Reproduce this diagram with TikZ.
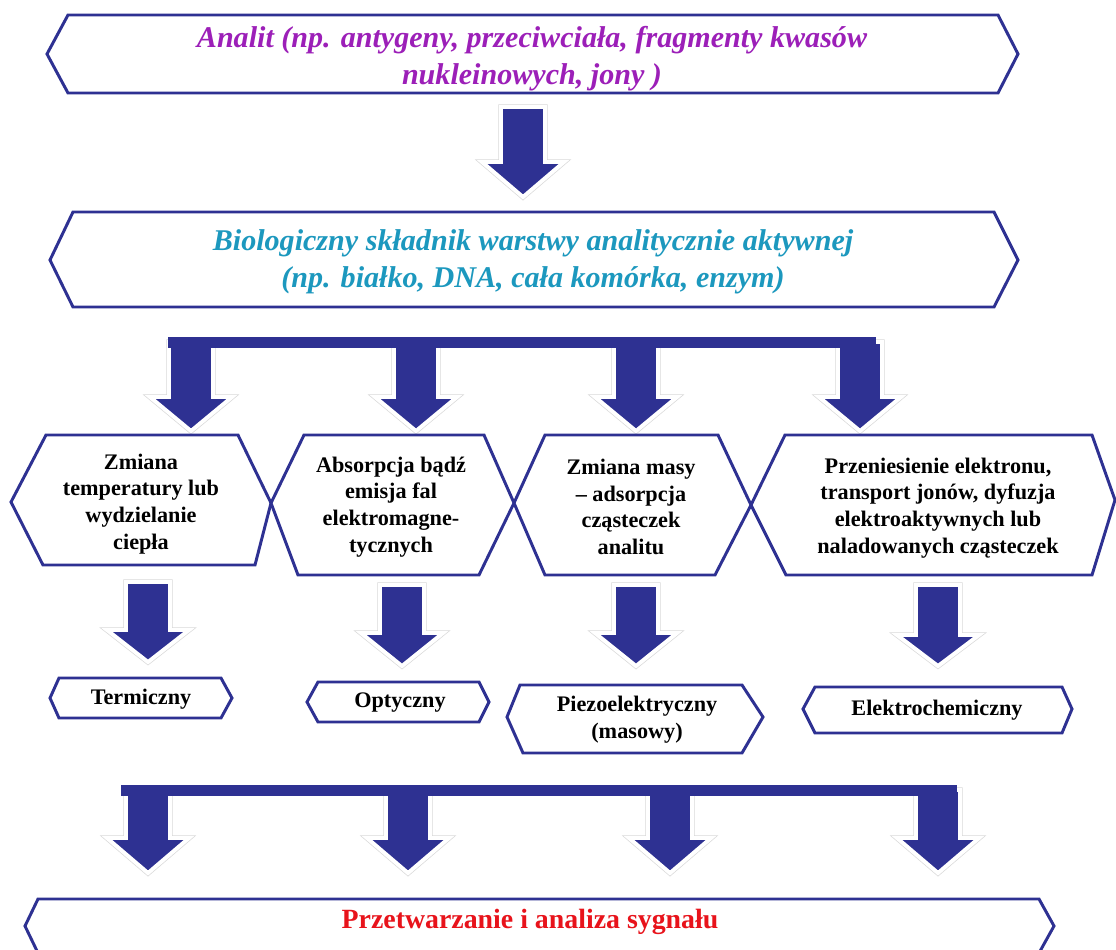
\documentclass[tikz,border=0pt]{standalone}
\usepackage{fontspec}
\setmainfont{Liberation Serif}
\usepackage{tikz}
\usepackage{xcolor}
\usetikzlibrary{positioning,calc}
\definecolor{navy}{HTML}{2E3192}
\definecolor{analitpurple}{HTML}{9C1FB8}
\definecolor{bioteal}{HTML}{1C98BE}
\definecolor{signalred}{HTML}{E8131B}
\tikzset{
  hexline/.style={draw=navy,fill=white,line width=2.1pt,line join=miter},
  blockarr/.style={fill=navy,draw=white,line width=2.8pt,line join=miter,
                   preaction={draw=gray!30,line width=3.8pt}},
  bigtext/.style={font=\bfseries\itshape\fontsize{21.4}{26.3}\selectfont,
                  align=center,inner sep=0pt},
  hextext/.style={font=\bfseries\fontsize{15.8}{19}\selectfont,
                  align=center,inner sep=0pt,text=black},
  bartext/.style={font=\bfseries\fontsize{19.8}{22}\selectfont,
                  align=center,inner sep=0pt}
}
% #1 centre x, #2 shaft top, #3 head base, #4 tip
\newcommand{\blockdown}[4]{%
  \path[blockarr] (#1-22,#2) -- (#1+22,#2) -- (#1+22,#3) -- (#1+41,#3)
    -- (#1,#4) -- (#1-41,#3) -- (#1-22,#3) -- cycle;}

\begin{document}
\begin{tikzpicture}[x=0.025cm,y=-0.025cm]
    \clip (0,0) rectangle (1116,949);
    \fill[white] (0,0) rectangle (1116,949);

    % analit and biological layer
    \draw[hexline] (47,54) -- (68,15) -- (998,15) -- (1018,54) -- (998,93)
      -- (68,93) -- cycle;
    \node[bigtext,text=analitpurple] (analit) at (532,59)
      {Analit (np. antygeny, przeciwciała, fragmenty kwasów\\
       nukleinowych, jony )};
    \blockdown{523}{107}{162}{197}
    \draw[hexline] (50,260) -- (73,212) -- (994,212) -- (1018,260) -- (994,307)
      -- (73,307) -- cycle;
    \node[bigtext,text=bioteal] (bio) at (533,262)
      {Biologiczny składnik warstwy analitycznie aktywnej\\
       (np. białko, DNA, cała komórka, enzym)};

    % first split
    \foreach \cx in {191,416,636,860}
      \blockdown{\cx}{342}{397}{431};
    \fill[navy] (168,337) rectangle (876,348);

    \draw[hexline] (11,502) -- (46,435) -- (238,435) -- (271,503) -- (255,565)
      -- (43,565) -- cycle;
    \draw[hexline] (271,503) -- (304,435) -- (484,435) -- (514,503) -- (479,575)
      -- (298,575) -- cycle;
    \draw[hexline] (514,503) -- (545,435) -- (718,435) -- (751,505) -- (715,575)
      -- (545,575) -- cycle;
    \draw[hexline] (751,505) -- (785,435) -- (1092,435) -- (1115,500)
      -- (1092,575) -- (786,575) -- cycle;
    \node[hextext] (temp) at (141,504)
      {Zmiana\\temperatury lub\\wydzielanie\\ciepła};
    \node[hextext] (absorpcja) at (391,507)
      {Absorpcja bądź\\emisja fal\\elektromagne-\\tycznych};
    \node[hextext] (masa) at (631,507)
      {Zmiana masy\\– adsorpcja\\cząsteczek\\analitu};
    \node[hextext] (elektron) at (938,508)
      {Przeniesienie elektronu,\\transport jonów, dyfuzja\\
       elektroaktywnych lub\\naladowanych cząsteczek};

    % transducers
    \blockdown{148}{582}{630}{662}
    \blockdown{402}{585}{633}{666}
    \blockdown{636}{585}{633}{666}
    \blockdown{938}{585}{635}{666}

    \draw[hexline] (50,698) -- (59,678) -- (221,678) -- (232,698) -- (221,718)
      -- (59,718) -- cycle;
    \node[hextext] (termiczny) at (141,699) {Termiczny};
    \draw[hexline] (307,702) -- (318,682) -- (479,682) -- (489,702) -- (479,722)
      -- (318,722) -- cycle;
    \node[hextext] (optyczny) at (400,703) {Optyczny};
    \draw[hexline] (507,717) -- (520,685) -- (742,685) -- (763,717) -- (742,753)
      -- (523,753) -- cycle;
    \node[hextext] (piezo) at (637,720) {Piezoelektryczny\\(masowy)};
    \draw[hexline] (803,709) -- (815,687) -- (1062,687) -- (1072,709)
      -- (1062,733) -- (815,733) -- cycle;
    \node[hextext] (elektrochem) at (937,710) {Elektrochemiczny};

    % signal processing
    \foreach \cx in {148,408,670,938}
      \blockdown{\cx}{790}{838}{873};
    \fill[navy] (121,785) rectangle (957,796);
    \draw[hexline] (38,953) -- (25,926) -- (38,899) -- (1039,899) -- (1054,926)
      -- (1039,953) -- cycle;
    \node[bartext,text=signalred] (sygnal) at (530,922)
      {Przetwarzanie i analiza sygnału};
\end{tikzpicture}
\end{document}
